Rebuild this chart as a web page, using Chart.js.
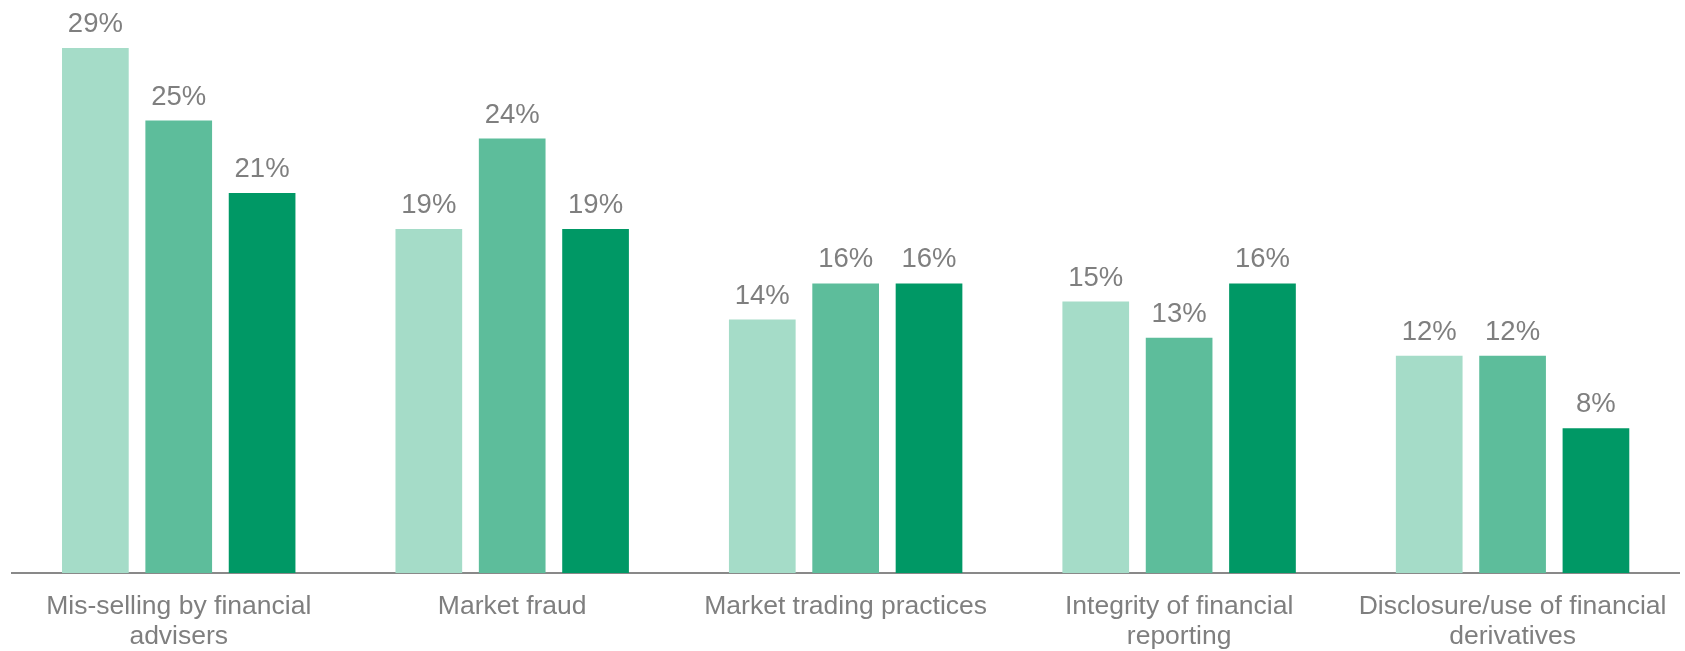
<!DOCTYPE html>
<html lang="en">
  <head>
    <meta charset="UTF-8" />
    <title>Conduct concerns</title>
    <script src="https://cdn.jsdelivr.net/npm/chart.js"></script>
    <style>
      body {
        margin: 0;
        padding: 0;
        background: #fff;
      }
      .chart-box {
        position: relative;
        width: 1685px;
        height: 651px;
      }
    </style>
  </head>
  <body>
    <div class="chart-box">
      <canvas id="chart"></canvas>
    </div>

    <script>
      // data
      const categories = [
        ["Mis-selling by financial", "advisers"],
        ["Market fraud"],
        ["Market trading practices"],
        ["Integrity of financial", "reporting"],
        ["Disclosure/use of financial", "derivatives"],
      ];
      const seriesA = [29, 19, 14, 15, 12];
      const seriesB = [25, 24, 16, 13, 12];
      const seriesC = [21, 19, 16, 16, 8];

      const grey = "#7f7f7f";

      // percentage labels above each bar
      const barLabels = {
        id: "barLabels",
        afterDatasetsDraw(chart) {
          const ctx = chart.ctx;
          ctx.save();
          ctx.font = "27.5px 'Liberation Sans', Arial, sans-serif";
          ctx.fillStyle = grey;
          ctx.textAlign = "center";
          ctx.textBaseline = "alphabetic";
          chart.data.datasets.forEach((ds, i) => {
            chart.getDatasetMeta(i).data.forEach((bar, j) => {
              ctx.fillText(ds.data[j] + "%", bar.x, bar.y - 16);
            });
          });
          ctx.restore();
        },
      };

      new Chart(document.getElementById("chart"), {
        type: "bar",
        data: {
          labels: categories,
          datasets: [
            { label: "Series 1", data: seriesA, backgroundColor: "#a5dcc8" },
            { label: "Series 2", data: seriesB, backgroundColor: "#5dbd9b" },
            { label: "Series 3", data: seriesC, backgroundColor: "#009865" },
          ],
        },
        options: {
          responsive: true,
          maintainAspectRatio: false,
          animation: false,
          layout: { padding: { left: 12, right: 5, top: 30, bottom: 0 } },
          datasets: {
            bar: { categoryPercentage: 0.75, barPercentage: 0.8 },
          },
          plugins: {
            legend: { display: false },
            tooltip: { enabled: false },
          },
          scales: {
            x: {
              grid: { display: false, drawTicks: false },
              border: { color: "#898989", width: 2 },
              afterFit(scale) {
                scale.height = 78;
              },
              ticks: {
                color: grey,
                padding: 18,
                maxRotation: 0,
                autoSkip: false,
                font: { family: "'Liberation Sans', Arial, sans-serif", size: 26.5, lineHeight: 1.16 },
              },
            },
            y: {
              display: false,
              min: 0,
              max: 30,
            },
          },
        },
        plugins: [barLabels],
      });
    </script>
  </body>
</html>
